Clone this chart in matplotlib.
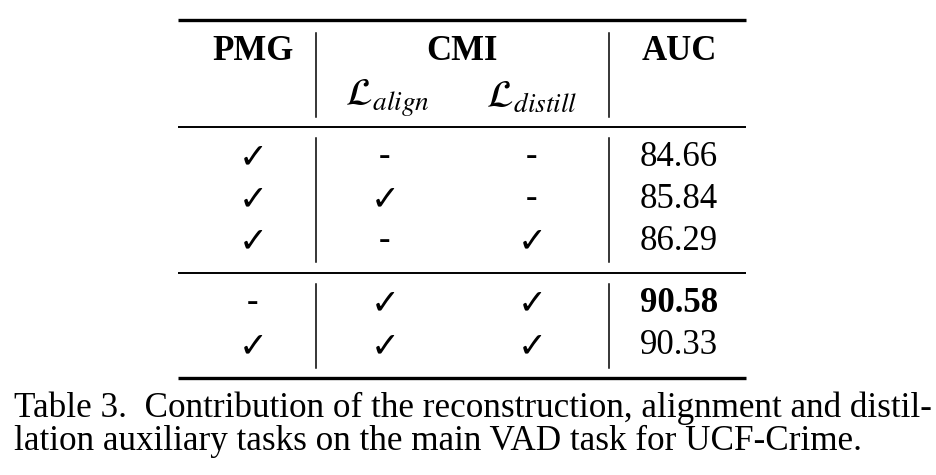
import matplotlib
matplotlib.use("Agg")
import matplotlib.pyplot as plt

plt.rcParams['mathtext.fontset'] = 'stix'
plt.rcParams['font.family'] = ['Liberation Serif', 'DejaVu Sans']

pmg = [True, True, True, False, True]
align = [False, True, False, True, True]
distill = [False, False, True, True, True]
auc = ["84.66", "85.84", "86.29", "90.58", "90.33"]
best = 3
caption = ["Table 3.  Contribution of the reconstruction, alignment and distil-",
           "lation auxiliary tasks on the main VAD task for UCF-Crime."]

W, H = 937, 475
fig = plt.figure(figsize=(W/100, H/100), dpi=100)
ax = fig.add_axes([0, 0, 1, 1])
ax.set_xlim(0, W); ax.set_ylim(H, 0); ax.axis('off')

fs = 25
def hl(y, lw):
    ax.plot([178, 746], [y, y], color='black', lw=lw, solid_capstyle='butt')
hl(20, 2.4); hl(127, 1.4); hl(273, 1.4); hl(378, 2.4)
for x in (316, 609):
    for y0, y1 in ((33, 117), (138, 262), (284, 368)):
        ax.plot([x, x], [y0, y1], color='black', lw=1.1)

ax.text(253, 52, "PMG", fontsize=fs, weight='bold', ha='center', va='center')
ax.text(462, 52, "CMI", fontsize=fs, weight='bold', ha='center', va='center')
ax.text(679, 52, "AUC", fontsize=fs, weight='bold', ha='center', va='center')
ax.text(387, 98, r"$\mathcal{L}_{align}$", fontsize=28, ha='center', va='center')
ax.text(532, 98, r"$\mathcal{L}_{distill}$", fontsize=28, ha='center', va='center')

rows_y = [157, 199, 241, 303, 346]
def mark(x, y, v):
    if v:
        ax.text(x, y, "✓", fontsize=25, ha='center', va='center', family=['DejaVu Sans'])
    else:
        ax.text(x, y, "-", fontsize=fs, ha='center', va='center')
for i, y in enumerate(rows_y):
    mark(253, y, pmg[i]); mark(385, y, align[i]); mark(532, y, distill[i])
    ax.text(679, y, auc[i], fontsize=fs, ha='center', va='center',
            weight='bold' if i == best else 'normal')

ax.text(14, 408, caption[0], fontsize=25.3, ha='left', va='center')
ax.text(14, 441, caption[1], fontsize=25.3, ha='left', va='center')
fig.savefig("out.png", dpi=100)
